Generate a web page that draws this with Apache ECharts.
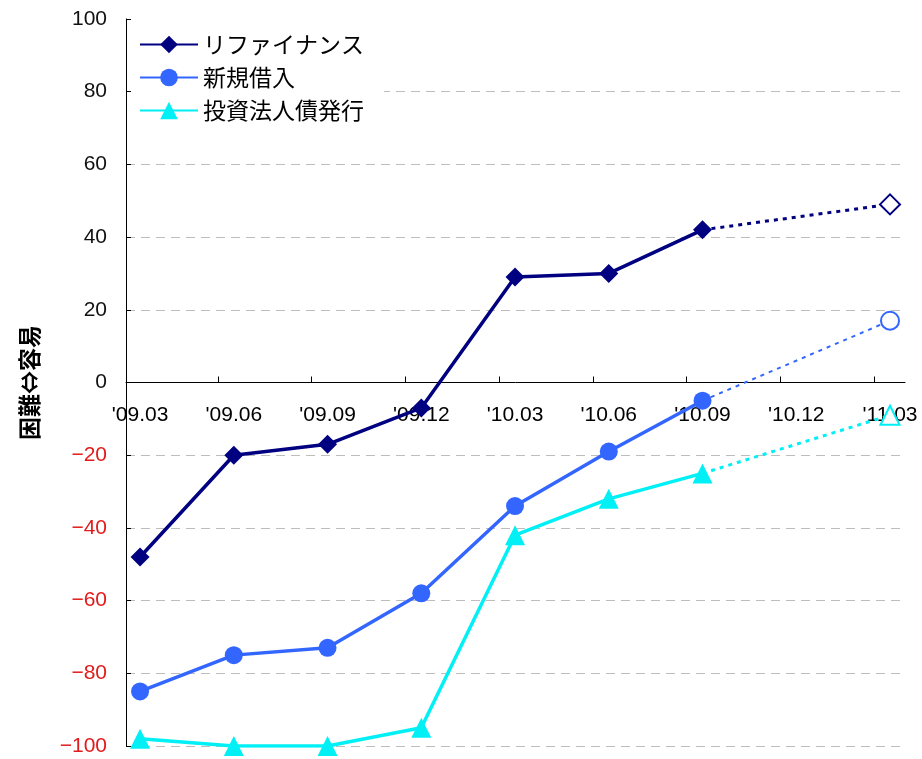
<!DOCTYPE html>
<html lang="ja">
<head>
<meta charset="utf-8">
<title>資金調達環境 DI</title>
<script src="https://cdn.jsdelivr.net/npm/echarts@6/dist/echarts.min.js"></script>
<style>
  html, body { margin: 0; padding: 0; background: #fff; }
  #chart { width: 922px; height: 759px; }
</style>
</head>
<body>
<div id="chart"></div>
<script>
// Quarter labels along the x axis
const categories = ["'09.03", "'09.06", "'09.09", "'09.12", "'10.03", "'10.06", "'10.09", "'10.12", "'11.03"];

// Survey results (solid lines) and outlook (dotted segment, hollow marker)
const refinanceActual   = [-48, -20, -17, -7, 29, 30, 42, null, null];
const refinanceOutlook  = [null, null, null, null, null, null, 42, null, 49];
const newLoanActual     = [-85, -75, -73, -58, -34, -19, -5, null, null];
const newLoanOutlook    = [null, null, null, null, null, null, -5, null, 17];
const bondActual        = [-98, -100, -100, -95, -42, -32, -25, null, null];
const bondOutlook       = [null, null, null, null, null, null, -25, null, -9];

// y axis range and step
const yMin = -100;
const yMax = 100;
const yStep = 20;

const seriesNames = ['リファイナンス', '新規借入', '投資法人債発行'];
const colors = ['#000080', '#3366ff', '#00f0f5'];

const toPoints = arr => arr.map((v, i) => v === null ? null : [i, v]).filter(p => p !== null);

const fontLatin = '"Liberation Sans", Arial, sans-serif';
const fontJa = '"Noto Sans CJK JP", sans-serif';

// plot box
const gridTop = 19;
const gridBottom = 13;
const chartHeight = 759;
const plotHeight = chartHeight - gridTop - gridBottom;
// shift the category axis from the bottom edge up to the zero line
const zeroOffset = -plotHeight * (0 - yMin) / (yMax - yMin);

function actualSeries(name, values, color, symbol, size) {
  return {
    name: name,
    type: 'line',
    data: toPoints(values),
    symbol: symbol,
    symbolSize: size,
    itemStyle: { color: color },
    lineStyle: { color: color, width: 3.5 },
    z: 3
  };
}

function outlookSeries(name, values, color, symbol, size, width) {
  const pts = toPoints(values);
  return {
    name: name + '（見通し）',
    type: 'line',
    data: pts.map((p, i) => i === pts.length - 1
      ? { value: p }
      : { value: p, symbol: 'none' }),
    symbol: symbol,
    symbolSize: size,
    showAllSymbol: true,
    itemStyle: { color: color, borderWidth: 2 },
    lineStyle: { color: color, width: width, type: [4, 5] },
    z: 2
  };
}

const chart = echarts.init(document.getElementById('chart'), null, { renderer: 'canvas' });

chart.setOption({
  animation: false,
  backgroundColor: '#fff',
  grid: {
    left: 126, right: 17, top: gridTop, bottom: gridBottom,
    containLabel: false,
    outerBoundsMode: 'none'
  },
  legend: {
    data: seriesNames,
    orient: 'vertical',
    left: 131,
    top: 22,
    padding: [11, 20, 12, 8],
    itemGap: 10,
    itemWidth: 58,
    itemHeight: 22,
    backgroundColor: '#fff',
    textStyle: { fontFamily: fontJa, fontSize: 23, lineHeight: 23, color: '#000' }
  },
  xAxis: {
    type: 'value',
    min: -0.15,
    max: 8.16,
    offset: zeroOffset,
    axisLine: { onZero: false, lineStyle: { color: '#000', width: 1 } },
    axisTick: {
      show: true,
      inside: true,
      length: 6,
      customValues: categories.slice(1).map((c, i) => i + 1 - 0.17),
      lineStyle: { color: '#000' }
    },
    axisLabel: {
      customValues: categories.map((c, i) => i),
      formatter: v => categories[Math.round(v)],
      margin: 22,
      fontFamily: fontLatin,
      fontSize: 21,
      color: '#000'
    },
    splitLine: { show: false }
  },
  yAxis: {
    type: 'value',
    min: yMin,
    max: yMax,
    interval: yStep,
    name: '困難⇔容易',
    nameLocation: 'middle',
    nameRotate: 90,
    nameGap: 85,
    nameTextStyle: { fontFamily: fontJa, fontSize: 23, fontWeight: 'bold', color: '#000' },
    axisLine: { show: true, onZero: false, lineStyle: { color: '#000', width: 1 } },
    axisTick: { show: true, inside: true, length: 5, lineStyle: { color: '#000' } },
    axisLabel: {
      margin: 19,
      fontFamily: fontLatin,
      fontSize: 21,
      color: v => (v < 0 ? '#e31b1b' : '#111'),
      formatter: v => (v < 0 ? '\u2212' + Math.abs(v) : String(v))
    },
    splitLine: {
      show: true,
      showMaxLine: false,
      lineStyle: { color: '#bdbdbd', type: [9, 6], width: 1 }
    }
  },
  series: [
    outlookSeries(seriesNames[0], refinanceOutlook, colors[0], 'emptyDiamond', 20, 3),
    outlookSeries(seriesNames[1], newLoanOutlook, colors[1], 'emptyCircle', 18, 2),
    outlookSeries(seriesNames[2], bondOutlook, colors[2], 'emptyTriangle', 19, 3),
    actualSeries(seriesNames[0], refinanceActual, colors[0], 'diamond', 19),
    actualSeries(seriesNames[1], newLoanActual, colors[1], 'circle', 18),
    actualSeries(seriesNames[2], bondActual, colors[2], 'triangle', 20)
  ]
});
</script>
</body>
</html>
